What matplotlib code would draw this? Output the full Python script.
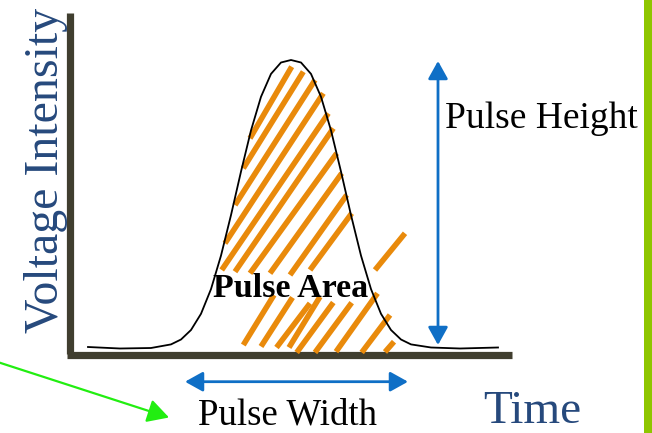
import matplotlib
matplotlib.use("Agg")
import matplotlib.pyplot as plt

# drawing is laid out on a 652 x 433 canvas, y grows downwards

# pulse outline
pulse_x = [88, 120, 151, 171, 181, 191, 201, 211, 221, 231, 241, 251, 261, 271, 281, 291,
           301, 311, 321, 331, 341, 351, 361, 371, 381, 391, 401, 411, 431, 460, 498]
pulse_y = [347, 348.5, 348, 344.4, 339.5, 330, 313.8, 289.1, 255.6, 215.1, 171.6, 130.4, 96.8, 73.9, 62.5, 60,
           62.5, 73.9, 96.8, 130.4, 171.6, 215.1, 255.6, 289.1, 313.8, 330, 339.5, 344.4, 347.5, 348.5, 347.5]

# hatch strokes inside the pulse: (x0, y0, x1, y1)
hatch_upper = [
    (291.7, 66.7, 250, 138.3),
    (303.3, 71.7, 243.3, 168.3),
    (315, 80, 235, 205),
    (323.3, 93.3, 225, 243.3),
    (328.3, 113.3, 221.7, 270),
    (333.3, 128.3, 235, 271.7),
    (336.7, 153.3, 250, 273.3),
    (341.7, 173.3, 270, 273.3),
    (346.7, 195, 290, 275),
    (351.7, 213.3, 310, 270),
    (405, 233.3, 375, 270),
]
hatch_lower = [
    (274, 295, 243.3, 345),
    (292.5, 297.5, 261, 346.5),
    (310, 303.3, 276.5, 347.5),
    (320, 296.7, 289, 347.5),
    (333.3, 302.5, 296.7, 352.5),
    (351.7, 302.7, 315, 352.5),
    (377.5, 293.3, 336, 351.7),
    (390, 315, 361.7, 352.5),
    (394, 341.7, 385, 352),
]

# axes frame
y_axis_x = 70
y_axis_top, y_axis_bottom = 13, 354
x_axis_y = 354.5
x_axis_left, x_axis_right = 67, 512

# arrows
height_arrow = ((438, 345), (438, 61))
width_arrow = ((185, 381.7), (408, 381.7))
pointer_arrow = ((-4, 361.5), (169, 417.5))

AXIS_COL = "#403e2f"
ORANGE = "#e98a0b"
BLUE = "#0f6fc6"
LABEL_BLUE = "#26497c"
GREEN = "#22ee11"
BAR_GREEN = "#8ec600"

fig = plt.figure(figsize=(6.52, 4.33), dpi=100)
ax = fig.add_axes([0, 0, 1, 1])
ax.set_xlim(0, 652)
ax.set_ylim(433, 0)
ax.axis('off')

serif = "Liberation Serif"

# side bar
ax.axvspan(644, 652, color=BAR_GREEN, lw=0)

# frame
ax.plot([y_axis_x, y_axis_x], [y_axis_top, y_axis_bottom], color=AXIS_COL, lw=5.2, solid_capstyle='butt')
ax.plot([x_axis_left, x_axis_right], [x_axis_y, x_axis_y], color=AXIS_COL, lw=5.2, solid_capstyle='butt')

# hatching
for x0, y0, x1, y1 in hatch_upper + hatch_lower:
    ax.plot([x0, x1], [y0, y1], color=ORANGE, lw=4.0, solid_capstyle='butt')

# pulse
ax.plot(pulse_x, pulse_y, color='black', lw=1.3, solid_joinstyle='round')

# arrows
blue_style = "<|-|>,head_length=0.9,head_width=0.5"
for (a, b) in (height_arrow, width_arrow):
    ax.annotate("", xy=b, xytext=a,
                arrowprops=dict(arrowstyle=blue_style, color=BLUE, lw=2.0,
                                mutation_scale=12, shrinkA=0, shrinkB=0))
ax.annotate("", xy=pointer_arrow[1], xytext=pointer_arrow[0],
            arrowprops=dict(arrowstyle="-|>,head_length=1.0,head_width=0.55", color=GREEN, lw=1.6,
                            mutation_scale=13, shrinkA=0, shrinkB=0))

# labels
ax.text(58.5, 333, "Voltage Intensity", rotation=90, rotation_mode='anchor',
        ha='left', va='baseline', fontsize=34.5, family=serif, color=LABEL_BLUE)
ax.text(483, 423, "Time", ha='left', va='baseline', fontsize=34, family=serif, color=LABEL_BLUE)
ax.text(445, 128, "Pulse Height", ha='left', va='baseline', fontsize=27, family=serif, color='black')
ax.text(198, 424.5, "Pulse Width", ha='left', va='baseline', fontsize=26.5, family=serif, color='black')
ax.text(213, 297, "Pulse Area", ha='left', va='baseline', fontsize=24.5, family=serif,
        fontweight='bold', color='black')

fig.savefig("out.png", dpi=100)
